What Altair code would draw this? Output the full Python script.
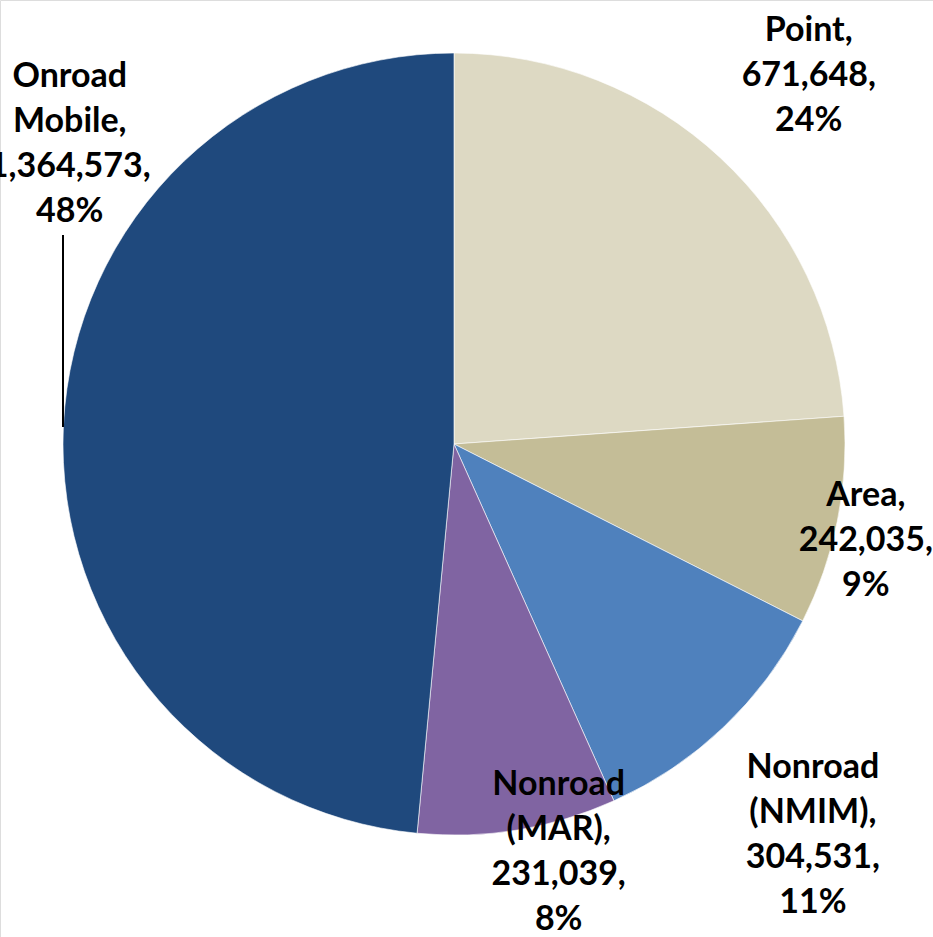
import math
import altair as alt
import pandas as pd

# ---- data ----
categories = ["Point", "Area", "Nonroad (NMIM)", "Nonroad (MAR)", "Onroad Mobile"]
label_names = ["Point,", "Area,", "Nonroad\n(NMIM),", "Nonroad\n(MAR),", "Onroad\nMobile,"]
values = [671648, 242035, 304531, 231039, 1364573]
percent_labels = ["24%", "9%", "11%", "8%", "48%"]
colors = ["#DDD9C3", "#C4BD97", "#4F81BD", "#8064A2", "#1F497D"]

# ---- layout (style) ----
W, H = 933, 937
CX, CY, R = 454, 444, 391
LH = 45
label_radius = [511, 423, 531, 422, 487]
label_angle_shift = [1.0, 1.8, 1.1, -5.0, 35.2]  # degrees, relative to slice middle

total = sum(values)
rows = []
cum = 0
for i, (c, v) in enumerate(zip(categories, values)):
    mid = (cum + v / 2) / total * 360
    cum += v
    ang = math.radians(mid + label_angle_shift[i])
    text = f"{label_names[i]}\n{v:,},\n{percent_labels[i]}"
    n = text.count("\n") + 1
    rows.append({
        "cat": c,
        "value": v,
        "order": i,
        "label": text,
        "lx": CX + label_radius[i] * math.sin(ang),
        "ly": CY - label_radius[i] * math.cos(ang) - (n - 1) * LH / 2,
    })
df = pd.DataFrame(rows)

pie = alt.Chart(df).mark_arc(outerRadius=R, stroke="#ffffff", strokeWidth=0.6).encode(
    theta=alt.Theta("value:Q", stack=True),
    order=alt.Order("order:Q"),
    color=alt.Color("cat:N", scale=alt.Scale(domain=categories, range=colors), legend=None),
    x=alt.value(CX),
    y=alt.value(CY),
)

labels = alt.Chart(df).mark_text(
    font="Lato", fontWeight="bold", fontSize=34, lineHeight=LH,
    lineBreak="\n", align="center", baseline="middle", color="#000000",
).encode(
    x=alt.X("lx:Q", scale=None),
    y=alt.Y("ly:Q", scale=None),
    text="label:N",
)

leader = alt.Chart(df.head(1)).mark_rule(color="#000000", strokeWidth=2).encode(
    x=alt.value(63), y=alt.value(235), y2=alt.value(427)
)

chart = alt.layer(pie, leader, labels).properties(
    width=W, height=H, autosize=alt.AutoSizeParams(type="none"), padding=0
).configure_view(stroke=None).configure(background="#ffffff")

chart.save("out.html", embed_options={"renderer": "svg", "actions": False})
